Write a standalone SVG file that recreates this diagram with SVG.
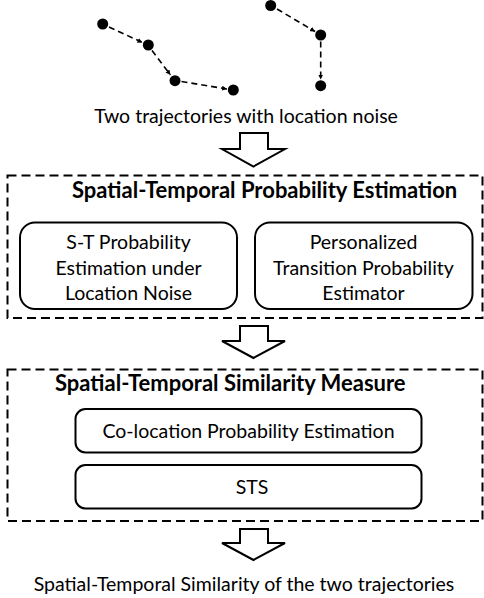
<svg xmlns="http://www.w3.org/2000/svg" width="484" height="598" viewBox="0 0 484 598">
<style>
text{font-family:Lato,"Open Sans","Liberation Sans",sans-serif;fill:#000;}
.t{font-size:19.5px;text-anchor:middle;}
.h{font-size:22px;font-weight:bold;}
.dot{fill:#000;}
.traj{fill:none;stroke:#000;stroke-width:1.6;stroke-dasharray:6 4;marker-end:url(#ah);}
.group{fill:none;stroke:#000;stroke-width:2;stroke-dasharray:9 5;}
.box{fill:#fff;stroke:#000;stroke-width:2;}
.big{fill:#fff;stroke:#000;stroke-width:2;stroke-linejoin:miter;}
</style>
<defs>
<marker id="ah" viewBox="0 0 10 10" refX="10" refY="5" markerWidth="5" markerHeight="5" orient="auto" markerUnits="userSpaceOnUse">
<path d="M0,0 L10,5 L0,10 z" fill="#000"/>
</marker>
</defs>
<g id="trajectories">
<g id="traj1">
<circle class="dot" cx="102.7" cy="24" r="5.5"/>
<circle class="dot" cx="148.3" cy="45" r="5.5"/>
<circle class="dot" cx="175" cy="80.7" r="5.5"/>
<circle class="dot" cx="233.3" cy="90" r="5.5"/>
</g>
<g id="traj2">
<circle class="dot" cx="270.7" cy="5.5" r="5.5"/>
<circle class="dot" cx="320.7" cy="35" r="5.5"/>
<circle class="dot" cx="320.7" cy="85.7" r="5.5"/>
</g>
</g>
<g id="connectors">
<line class="traj" x1="109" y1="27" x2="142.5" y2="42.5"/>
<line class="traj" x1="152" y1="50.5" x2="170.5" y2="75"/>
<line class="traj" x1="181.5" y1="81.5" x2="227" y2="89"/>
<line class="traj" x1="277" y1="9" x2="315" y2="31.5"/>
<line class="traj" x1="320.7" y1="41.5" x2="320.7" y2="79.5"/>
<polygon id="arrow1" class="big" points="240,133 268,133 268,149 285,149 253.5,166.5 222,149 240,149"/>
<polygon id="arrow2" class="big" points="240,326 268,326 268,341 285,341 253.5,358 222,341 240,341"/>
<polygon id="arrow3" class="big" points="240,529 268,529 268,543 285,543 253.5,560 222,543 240,543"/>
</g>
<g id="input">
<text class="t" x="246" y="122.5">Two trajectories with location noise</text>
</g>
<g id="st-prob">
<rect class="group" x="7.5" y="175.5" width="475" height="142.5"/>
<text class="h" x="72" y="198">Spatial-Temporal Probability Estimation</text>
</g>
<g id="st-prob-noise">
<rect class="box" x="20" y="222.5" width="217" height="86.5" rx="15"/>
<text class="t" x="128.5" y="248.5">S-T Probability</text>
<text class="t" x="128.5" y="274.5">Estimation under</text>
<text class="t" x="128.5" y="299.5">Location Noise</text>
</g>
<g id="personalized">
<rect class="box" x="255" y="222.5" width="217.5" height="86.5" rx="15"/>
<text class="t" x="363.5" y="248.5">Personalized</text>
<text class="t" x="363.5" y="274.5">Transition Probability</text>
<text class="t" x="363.5" y="299.5">Estimator</text>
</g>
<g id="st-sim">
<rect class="group" x="7.5" y="369.5" width="475" height="151.5"/>
<text class="h" x="55" y="391">Spatial-Temporal Similarity Measure</text>
</g>
<g id="colocation">
<rect class="box" x="75.5" y="409" width="346" height="43.5" rx="10"/>
<text class="t" x="248.5" y="438">Co-location Probability Estimation</text>
</g>
<g id="sts">
<rect class="box" x="75.5" y="465" width="346" height="43.5" rx="10"/>
<text class="t" x="252" y="494">STS</text>
</g>
<g id="output">
<text class="t" x="244" y="591">Spatial-Temporal Similarity of the two trajectories</text>
</g>
</svg>
